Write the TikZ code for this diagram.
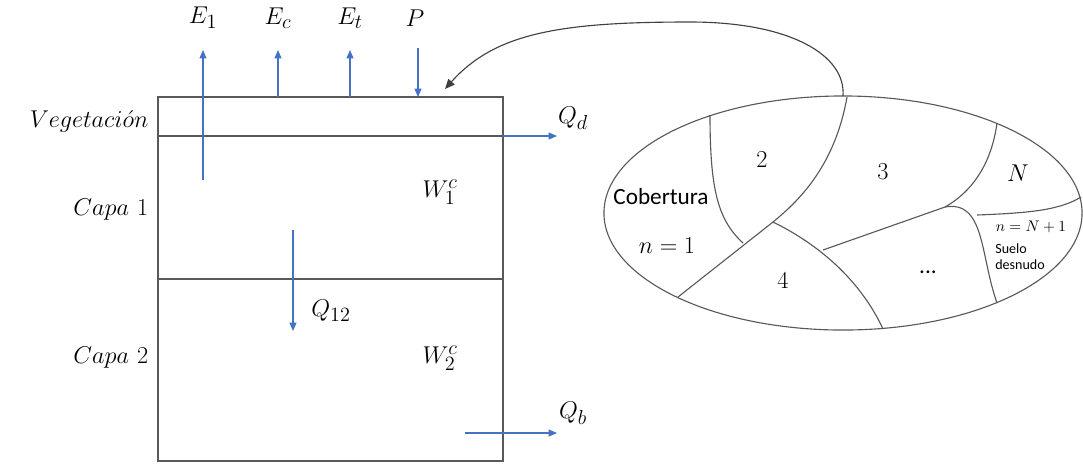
\documentclass[tikz,border=0pt]{standalone}
\usepackage{fontspec}
\setsansfont{Carlito}
\usetikzlibrary{arrows.meta, shapes.geometric, calc}
\definecolor{flujoazul}{HTML}{4472C4}
\definecolor{bordegris}{HTML}{595959}
\definecolor{curvagris}{HTML}{404040}

\begin{document}
\begin{tikzpicture}[x=0.025cm, y=-0.025cm,
    caja/.style={draw=bordegris, line width=1.1pt},
    zona/.style={draw=bordegris, line width=0.8pt},
    flujo/.style={draw=flujoazul, line width=0.8pt, -{Triangle[length=6pt,width=5pt]}},
    etiq/.style={font=\fontsize{19}{22}\selectfont, inner sep=1pt},
    texto/.style={font=\sffamily\fontsize{16.5}{19}\selectfont, inner sep=1pt},
    chico/.style={font=\sffamily\fontsize{10}{12}\selectfont, inner sep=0pt, align=left}]
  \useasboundingbox (0,0) rectangle (1083,463);

  % columna de suelo
  \draw[caja] (158,97) rectangle (503,461);
  \draw[caja] (158,136) -- (503,136);
  \draw[caja] (158,279) -- (503,279);
  \node[etiq, anchor=east] (veg) at (150,121) {$Vegetaci\acute{o}n$};
  \node[etiq, anchor=east] (capa1) at (150,210) {$Capa\ 1$};
  \node[etiq, anchor=east] (capa2) at (150,358) {$Capa\ 2$};
  \node[etiq] (w1) at (440,192) {$W_1^c$};
  \node[etiq] (w2) at (440,358) {$W_2^c$};

  % flujos
  \coordinate (e1a) at (203,180);  \coordinate (e1b) at (203,50);
  \coordinate (eca) at (278,97);   \coordinate (ecb) at (278,50);
  \coordinate (eta) at (350,97);   \coordinate (etb) at (350,50);
  \coordinate (pa)  at (418,48);   \coordinate (pb)  at (418,97);
  \coordinate (qda) at (503,136);  \coordinate (qdb) at (557,136);
  \coordinate (q12a) at (293,230); \coordinate (q12b) at (293,331);
  \coordinate (qba) at (465,433);  \coordinate (qbb) at (557,433);
  \draw[flujo] (e1a) -- (e1b);
  \draw[flujo] (eca) -- (ecb);
  \draw[flujo] (eta) -- (etb);
  \draw[flujo] (pa) -- (pb);
  \draw[flujo] (qda) -- (qdb);
  \draw[flujo] (q12a) -- (q12b);
  \draw[flujo] (qba) -- (qbb);
  \node[etiq] (e1) at (203,18) {$E_1$};
  \node[etiq] (ec) at (278,18) {$E_c$};
  \node[etiq] (et) at (350,18) {$E_t$};
  \node[etiq] (p)  at (415,18) {$P$};
  \node[etiq] (qd) at (573,118) {$Q_d$};
  \node[etiq] (q12) at (331,311) {$Q_{12}$};
  \node[etiq] (qb) at (573,413) {$Q_b$};

  % mosaico de coberturas
  \node[zona, ellipse, inner sep=0pt, outer sep=0pt,
        minimum width=11.95cm, minimum height=5.85cm] (mosaico) at (843,213) {};
  \draw[zona] (847,97) .. controls (835,165) and (800,200) .. (773,222) -- (678,297);
  \draw[zona] (710,115) .. controls (710,190) and (718,220) .. (743,243);
  \draw[zona] (773,222) .. controls (830,250) and (865,290) .. (883,329);
  \draw[zona] (823,250) -- (945,207) .. controls (975,190) and (992,160) .. (997,123);
  \draw[zona] (945,207) .. controls (985,200) and (980,255) .. (997,303);
  \draw[zona] (977,215) .. controls (1030,213) and (1060,210) .. (1081,197);
  \node[texto] (cob) at (661,197) {Cobertura};
  \node[etiq] (n1) at (667,246) {$n=1$};
  \node[etiq] (r2) at (762,160) {$2$};
  \node[etiq] (r3) at (883,172) {$3$};
  \node[etiq] (rn) at (1018,173) {$N$};
  \node[etiq] (r4) at (783,281) {$4$};
  \node[texto] (rp) at (928,272) {...};
  \node[font=\fontsize{11}{13}\selectfont, inner sep=0pt] (nn) at (1031,227) {$n=N+1$};
  \node[chico, anchor=north west] (suelo) at (995,243) {Suelo\\desnudo};

  % enlace
  \coordinate (destino) at (445,89);
  \draw[curvagris, line width=0.8pt, -{Triangle[length=7pt,width=6pt]}]
    (mosaico.north) .. controls (846,55) and (790,22) .. (690,22)
    .. controls (560,22) and (495,33) .. (destino);
\end{tikzpicture}
\end{document}
